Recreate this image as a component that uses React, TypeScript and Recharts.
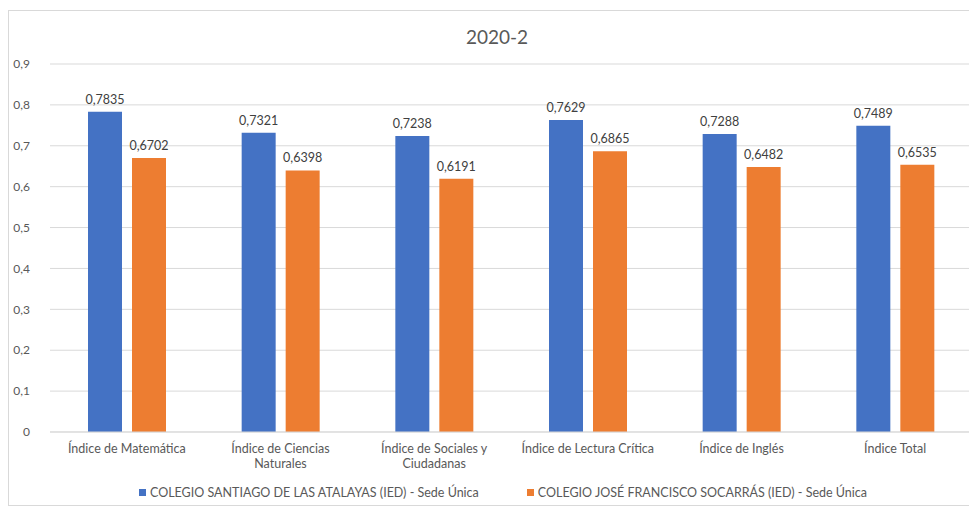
import React from 'react';
import { BarChart, Bar, XAxis, YAxis, CartesianGrid, Legend, LabelList, Text } from 'recharts';

const categories: string[] = [
    'Índice de Matemática',
    'Índice de Ciencias Naturales',
    'Índice de Sociales y Ciudadanas',
    'Índice de Lectura Crítica',
    'Índice de Inglés',
    'Índice Total',
];
const santiago: number[] = [0.7835, 0.7321, 0.7238, 0.7629, 0.7288, 0.7489];
const socarras: number[] = [0.6702, 0.6398, 0.6191, 0.6865, 0.6482, 0.6535];
const yTicks: number[] = [0, 0.1, 0.2, 0.3, 0.4, 0.5, 0.6, 0.7, 0.8, 0.9];

const seriesA = 'COLEGIO SANTIAGO DE LAS ATALAYAS (IED) - Sede Única';
const seriesB = 'COLEGIO JOSÉ FRANCISCO SOCARRÁS (IED) - Sede Única';

const data = categories.map((name, i) => ({ name, a: santiago[i], b: socarras[i] }));

const FONT = 'Lato, "Open Sans", sans-serif';
const BLUE = '#4472C4';
const ORANGE = '#ED7D31';

const comma = (v: any, digits?: number) => {
    const n = Number(v);
    const s = digits === undefined ? String(n) : n.toFixed(digits);
    return s.replace('.', ',');
};

const CategoryTick = (props: any) => {
    const { x, y, payload } = props;
    return (
        <Text
            x={x}
            y={y + 4}
            width={160}
            textAnchor="middle"
            verticalAnchor="start"
            lineHeight={15}
            fontSize={12.5}
            fontFamily={FONT}
            fill="#595959"
        >
            {payload.value}
        </Text>
    );
};

const LegendBox = () => (
    <div
        style={{
            display: 'flex',
            justifyContent: 'center',
            gap: 48,
            fontFamily: FONT,
            fontSize: 12.5,
            color: '#595959',
            paddingLeft: 24,
        }}
    >
        {[{ label: seriesA, color: BLUE }, { label: seriesB, color: ORANGE }].map((it) => (
            <div key={it.label} style={{ display: 'flex', alignItems: 'center' }}>
                <span style={{ width: 7, height: 7, background: it.color, marginRight: 4, display: 'inline-block' }} />
                <span>{it.label}</span>
            </div>
        ))}
    </div>
);

const App: React.FC = () => {
    return (
        <div
            style={{
                position: 'relative',
                marginTop: 2,
                width: 964,
                height: 494,
                border: '1px solid #d9d9d9',
                background: '#fff',
            }}
        >
            <div
                style={{
                    position: 'absolute',
                    top: 14,
                    left: 0,
                    width: 976,
                    textAlign: 'center',
                    fontFamily: FONT,
                    fontSize: 19,
                    color: '#595959',
                }}
            >
                2020-2
            </div>
            <BarChart
                width={964}
                height={494}
                data={data}
                barSize={34}
                barGap={10}
                margin={{ top: 53, right: 1, left: 0, bottom: 14 }}
            >
                <CartesianGrid vertical={false} stroke="#d9d9d9" />
                <XAxis
                    dataKey="name"
                    tick={<CategoryTick />}
                    tickLine={false}
                    axisLine={{ stroke: '#d9d9d9' }}
                    interval={0}
                    height={44}
                />
                <YAxis
                    width={41}
                    domain={[0, 0.9]}
                    ticks={yTicks}
                    tickFormatter={(v) => comma(v)}
                    tickLine={false}
                    axisLine={false}
                    tickMargin={14}
                    tick={{ fontSize: 12, fill: '#595959', fontFamily: FONT }}
                />
                <Legend
                    content={<LegendBox />}
                    wrapperStyle={{ top: 474, left: 0, width: 964 }}
                />
                <Bar dataKey="a" name={seriesA} fill={BLUE} isAnimationActive={false}>
                    <LabelList
                        dataKey="a"
                        position="top"
                        offset={8}
                        formatter={(v: any) => comma(v, 4)}
                        style={{ fontSize: 12.5, fill: '#404040', fontFamily: FONT }}
                    />
                </Bar>
                <Bar dataKey="b" name={seriesB} fill={ORANGE} isAnimationActive={false}>
                    <LabelList
                        dataKey="b"
                        position="top"
                        offset={8}
                        formatter={(v: any) => comma(v, 4)}
                        style={{ fontSize: 12.5, fill: '#404040', fontFamily: FONT }}
                    />
                </Bar>
            </BarChart>
        </div>
    );
};

export default App;
